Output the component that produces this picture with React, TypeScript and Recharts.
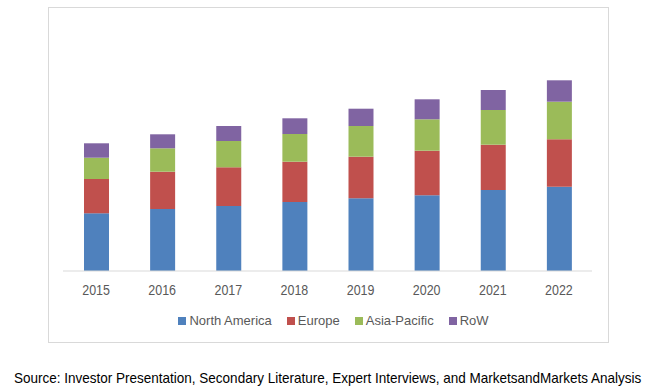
import React from "react";
import { BarChart, Bar, XAxis, YAxis, Legend } from "recharts";

const years = ["2015", "2016", "2017", "2018", "2019", "2020", "2021", "2022"];
const northAmerica = [57.7, 62, 65, 69, 72.7, 75.7, 81, 84.3];
const europe = [34.3, 37.3, 38.7, 40.3, 41.6, 44.6, 45.3, 47.4];
const asiaPacific = [21.3, 23.4, 26.3, 27.7, 30.7, 31.4, 34.7, 37.6];
const rest = [14.4, 14, 15, 15.7, 17.3, 20, 20, 21.4];

const seriesNames = ["North America", "Europe", "Asia-Pacific", "RoW"];
const seriesKeys = ["na", "eu", "ap", "row"];
const seriesColors = ["#4F81BD", "#C0504D", "#9BBB59", "#8064A2"];

const data = years.map((y, i) => ({
  year: y,
  na: northAmerica[i],
  eu: europe[i],
  ap: asiaPacific[i],
  row: rest[i],
}));

const FONT = "'Liberation Sans', Arial, sans-serif";

const YearTick = (props: any) => {
  const { x, y, payload } = props;
  return (
    <g transform={`translate(${x},${y})`}>
      <text
        transform="scale(0.86,1)"
        x={0}
        y={0}
        dy="0.71em"
        textAnchor="middle"
        fill="#595959"
        fontSize={14.5}
        fontFamily={FONT}
      >
        {payload.value}
      </text>
    </g>
  );
};

const LegendContent = () => (
  <div
    style={{
      display: "flex",
      justifyContent: "center",
      alignItems: "center",
      fontFamily: FONT,
      fontSize: 13,
      color: "#595959",
      paddingLeft: 32,
    }}
  >
    {seriesNames.map((n, i) => (
      <div key={n} style={{ display: "flex", alignItems: "center", marginRight: 15 }}>
        <span
          style={{
            display: "inline-block",
            width: 8,
            height: 8,
            background: seriesColors[i],
            marginRight: 3,
          }}
        />
        <span>{n}</span>
      </div>
    ))}
  </div>
);

export default function App() {
  return (
    <div style={{ position: "absolute", left: 0, top: 0, width: 650, height: 392, background: "#fff" }}>
      <div
        style={{
          position: "absolute",
          left: 48,
          top: 7,
          width: 561,
          height: 336,
          border: "1px solid #d9d9d9",
          boxSizing: "border-box",
        }}
      />
      <div style={{ position: "absolute", left: 0, top: 0 }}>
        <BarChart
          width={650}
          height={392}
          data={data}
          margin={{ top: 71, right: 58, bottom: 91, left: 63 }}
          barSize={25}
        >
          <XAxis
            dataKey="year"
            height={30}
            axisLine={{ stroke: "#d9d9d9" }}
            tickLine={false}
            tickSize={0}
            tickMargin={14}
            tick={<YearTick />}
          />
          <YAxis hide domain={[0, 200]} />
          <Legend
            verticalAlign="middle"
            content={<LegendContent />}
            wrapperStyle={{ top: 313, left: 0, width: 650 }}
          />
          {seriesKeys.map((k, i) => (
            <Bar
              key={k}
              dataKey={k}
              name={seriesNames[i]}
              stackId="a"
              fill={seriesColors[i]}
              isAnimationActive={false}
            />
          ))}
        </BarChart>
      </div>
      <div
        style={{
          position: "absolute",
          left: 14,
          top: 369,
          fontFamily: FONT,
          fontSize: 15,
          color: "#000",
          whiteSpace: "nowrap",
          transform: "scaleX(0.9)",
          transformOrigin: "0 0",
        }}
      >
        Source: Investor Presentation, Secondary Literature, Expert Interviews, and MarketsandMarkets Analysis
      </div>
    </div>
  );
}
